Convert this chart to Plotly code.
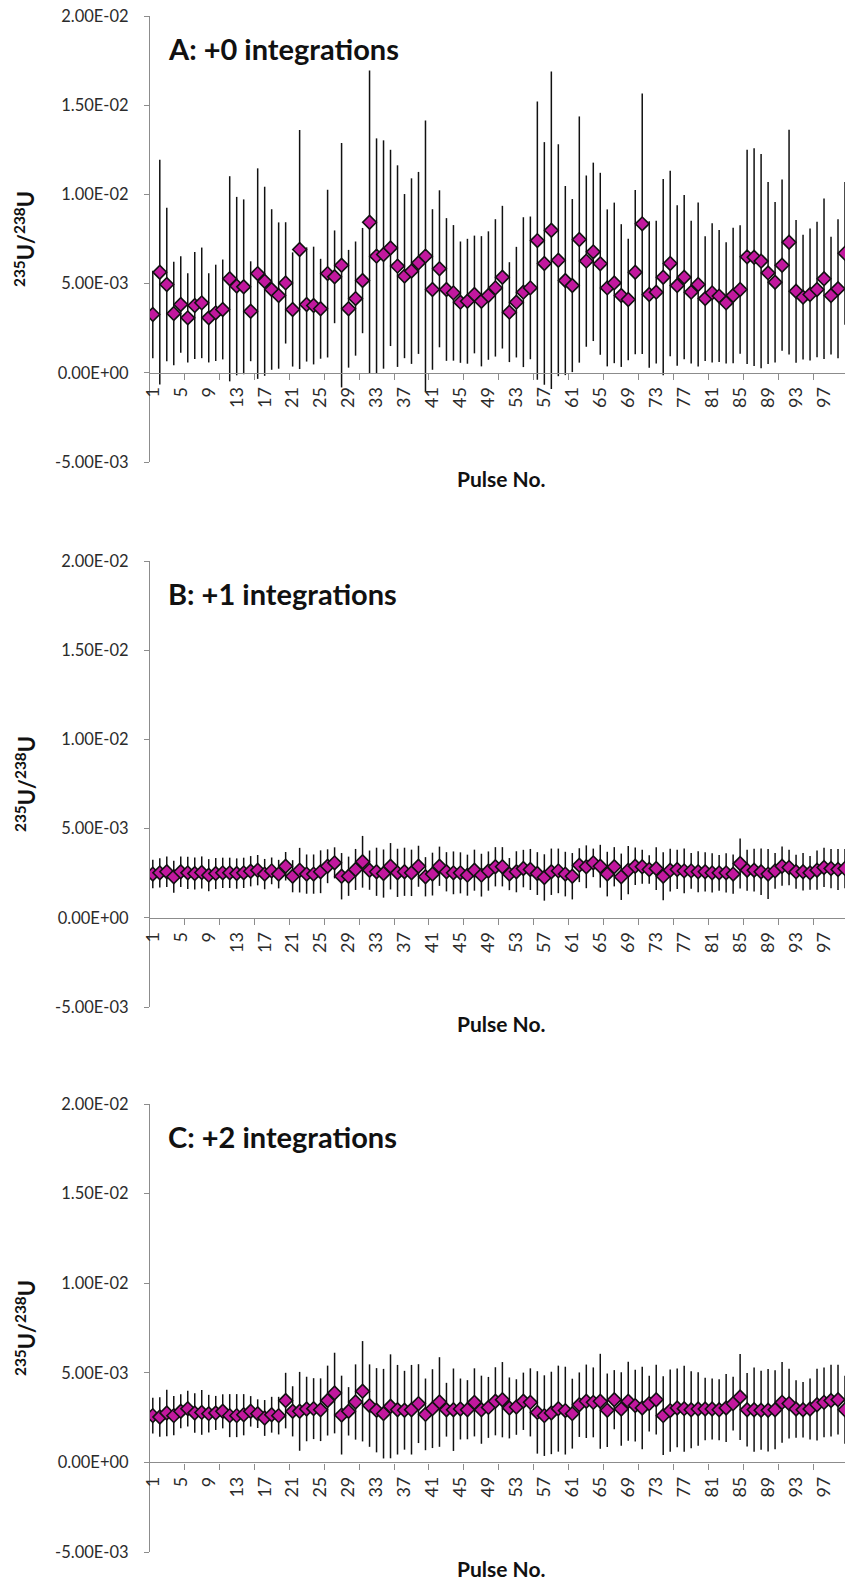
import plotly.graph_objects as go

# Pulse numbers (categories) and axis labelling
pulse = list(range(1, 101))
x_tick_vals = list(range(1, 98, 4))
x_tick_labels = [str(v) for v in x_tick_vals]
y_tick_vals = [-0.005, 0.0, 0.005, 0.01, 0.015, 0.02]
y_tick_labels = ["-5.00E-03", "0.00E+00", "5.00E-03", "1.00E-02", "1.50E-02", "2.00E-02"]
panel_titles = ["A: +0 integrations", "B: +1 integrations", "C: +2 integrations"]

# 235U/238U ratios and their uncertainties, in units of 1e-3
ratio_a = [3.27, 5.64, 4.95, 3.32, 3.83, 3.08, 3.77, 3.92, 3.08, 3.36,
           3.55, 5.27, 4.86, 4.82, 3.45, 5.56, 5.13, 4.67, 4.33, 5.04,
           3.55, 6.91, 3.83, 3.77, 3.59, 5.56, 5.38, 6.03, 3.59, 4.16,
           5.17, 8.44, 6.54, 6.63, 7.00, 5.98, 5.42, 5.70, 6.16, 6.54,
           4.67, 5.83, 4.67, 4.48, 3.96, 4.01, 4.39, 4.01, 4.33, 4.76,
           5.36, 3.40, 3.96, 4.52, 4.76, 7.41, 6.13, 7.99, 6.31, 5.17,
           4.89, 7.47, 6.26, 6.78, 6.11, 4.76, 5.04, 4.33, 4.11, 5.64,
           8.35, 4.39, 4.52, 5.36, 6.13, 4.89, 5.36, 4.52, 4.95, 4.16,
           4.48, 4.30, 3.92, 4.33, 4.67, 6.50, 6.48, 6.26, 5.60, 5.08,
           6.03, 7.32, 4.57, 4.24, 4.39, 4.67, 5.27, 4.33, 4.71, 6.70]
err_a = [2.45, 6.3, 4.3, 2.9, 2.7, 2.5, 3.0, 3.1, 2.5, 2.7,
         2.8, 5.75, 5.0, 4.9, 2.8, 5.9, 5.3, 4.5, 4.1, 3.4,
         3.2, 6.7, 3.2, 3.3, 2.8, 4.7, 2.6, 6.85, 3.3, 3.2,
         2.95, 8.5, 6.6, 6.4, 5.5, 5.65, 4.6, 5.2, 5.1, 7.6,
         4.5, 4.4, 4.0, 3.8, 3.4, 3.5, 3.3, 3.65, 3.6, 3.85,
         4.0, 2.8, 3.1, 4.2, 4.0, 7.8, 6.8, 8.9, 6.5, 5.3,
         4.85, 6.9, 4.8, 5.0, 5.1, 4.4, 4.5, 4.0, 3.4, 4.6,
         7.3, 4.1, 4.0, 5.5, 5.2, 4.5, 4.6, 4.0, 4.6, 3.5,
         3.9, 3.7, 3.4, 3.8, 3.6, 6.0, 6.1, 6.0, 5.1, 4.5,
         4.8, 6.3, 4.0, 3.5, 3.7, 3.8, 4.5, 3.3, 3.9, 4.0]

ratio_b = [2.45, 2.52, 2.58, 2.30, 2.58, 2.52, 2.48, 2.54, 2.39, 2.48,
           2.52, 2.52, 2.48, 2.52, 2.61, 2.67, 2.45, 2.63, 2.45, 2.89,
           2.33, 2.67, 2.45, 2.45, 2.58, 2.89, 3.08, 2.33, 2.33, 2.71,
           3.14, 2.67, 2.58, 2.48, 2.89, 2.52, 2.58, 2.52, 2.89, 2.30,
           2.45, 2.89, 2.58, 2.52, 2.52, 2.39, 2.67, 2.39, 2.62, 2.86,
           2.86, 2.45, 2.58, 2.76, 2.71, 2.48, 2.26, 2.58, 2.63, 2.45,
           2.33, 2.95, 2.86, 3.08, 2.89, 2.45, 2.86, 2.30, 2.67, 2.89,
           2.86, 2.71, 2.76, 2.33, 2.67, 2.71, 2.63, 2.63, 2.58, 2.58,
           2.52, 2.52, 2.52, 2.45, 3.04, 2.67, 2.67, 2.58, 2.45, 2.63,
           2.89, 2.82, 2.58, 2.58, 2.52, 2.67, 2.82, 2.76, 2.71, 2.76]
err_b = [0.8, 0.82, 0.85, 0.9, 0.85, 0.9, 0.9, 0.9, 0.9, 0.87,
         0.85, 0.85, 0.85, 0.85, 0.85, 0.85, 0.85, 0.75, 0.8, 0.8,
         0.9, 1.25, 1.1, 1.1, 1.2, 0.95, 0.87, 1.3, 1.1, 1.15,
         1.45, 1.1, 1.35, 1.35, 1.3, 1.35, 1.35, 1.3, 1.15, 1.1,
         1.2, 1.1, 1.1, 1.2, 1.15, 1.15, 1.15, 1.2, 1.1, 1.1,
         1.1, 0.9, 1.15, 1.05, 1.15, 1.2, 1.3, 1.3, 1.25, 1.25,
         1.3, 0.95, 1.2, 0.8, 1.2, 1.25, 1.1, 1.3, 1.35, 1.05,
         0.95, 0.8, 1.2, 1.35, 1.2, 1.1, 1.25, 1.0, 1.15, 1.1,
         1.1, 1.0, 1.1, 1.1, 1.4, 1.15, 1.2, 1.3, 1.4, 1.0,
         1.1, 1.0, 0.95, 1.05, 0.95, 1.1, 1.1, 1.1, 1.15, 1.1]

ratio_c = [2.61, 2.53, 2.76, 2.61, 2.85, 3.00, 2.76, 2.79, 2.72, 2.76,
           2.85, 2.61, 2.61, 2.66, 2.85, 2.72, 2.48, 2.66, 2.61, 3.45,
           2.85, 2.85, 2.98, 3.00, 2.94, 3.45, 3.87, 2.64, 2.85, 3.37,
           3.97, 3.17, 2.91, 2.72, 3.13, 2.94, 2.91, 2.94, 3.28, 2.68,
           3.00, 3.37, 2.94, 2.94, 2.98, 2.94, 3.35, 2.94, 3.07, 3.41,
           3.50, 3.04, 3.09, 3.41, 3.35, 2.79, 2.61, 2.76, 3.00, 2.89,
           2.72, 3.22, 3.41, 3.35, 3.41, 2.91, 3.50, 2.98, 3.41, 3.17,
           3.04, 3.28, 3.50, 2.61, 2.89, 3.04, 3.00, 2.94, 2.98, 2.98,
           2.98, 2.94, 3.04, 3.28, 3.65, 2.94, 2.94, 2.91, 2.91, 2.94,
           3.35, 3.28, 2.98, 2.94, 2.98, 3.22, 3.35, 3.45, 3.50, 2.94]
err_c = [1.0, 1.1, 1.3, 1.1, 0.95, 1.0, 1.1, 1.25, 1.05, 0.95,
         0.95, 1.2, 1.2, 1.15, 0.85, 0.8, 1.0, 1.0, 1.05, 1.55,
         1.4, 2.2, 1.8, 1.7, 1.75, 1.95, 2.25, 2.2, 1.35, 2.1,
         2.8, 2.3, 2.35, 2.5, 2.9, 2.5, 2.2, 2.5, 2.2, 2.0,
         2.2, 2.5, 1.5, 2.3, 1.7, 1.65, 1.9, 1.9, 1.7, 1.9,
         2.1, 1.7, 1.55, 1.6, 1.9, 2.3, 2.25, 2.3, 2.4, 2.45,
         1.95, 1.8, 2.05, 1.95, 2.65, 2.05, 1.65, 2.05, 2.2, 2.0,
         2.3, 1.55, 1.95, 2.2, 2.3, 2.2, 2.4, 2.15, 2.05, 1.75,
         1.7, 1.7, 1.9, 1.5, 2.4, 2.05, 2.35, 2.2, 2.3, 2.2,
         2.25, 1.95, 1.6, 1.55, 1.7, 2.0, 1.95, 2.0, 1.95, 1.9]

UNIT = 1e-3

# ---- layout geometry (pixels) ----
W, H = 845, 1584
ML, MR, MT, MB = 150, 0, 16, 32
PLOT_W = W - ML - MR
PLOT_H = H - MT - MB
panel_px = [(16, 462), (561, 1007), (1104, 1552)]   # top / bottom of each plot area

def py(px):
    return (H - MB - px) / PLOT_H

def pxx(px):
    return (px - ML) / PLOT_W

FONT = "Lato, 'Open Sans', sans-serif"
AXIS_GREY = "#8c8c8c"
TEXT = "#2b2b2b"
FILL = "#C2189E"

minor_ticks = [k + 0.5 for k in range(0, 101, 5)]

fig = go.Figure()
series = [(ratio_a, err_a), (ratio_b, err_b), (ratio_c, err_c)]
layout = dict(
    width=W, height=H,
    margin=dict(l=ML, r=MR, t=MT, b=MB),
    paper_bgcolor="white", plot_bgcolor="white",
    showlegend=False,
    font=dict(family=FONT, color=TEXT),
)
annotations = []

for i, (vals, errs) in enumerate(series):
    n = i + 1
    xa = "x" if n == 1 else f"x{n}"
    ya = "y" if n == 1 else f"y{n}"
    top, bot = panel_px[i]
    d0, d1 = py(bot), py(top)
    y_range = [-0.005, 0.02]
    zero_pos = d0 + (0 - y_range[0]) / (y_range[1] - y_range[0]) * (d1 - d0)

    fig.add_trace(go.Scatter(
        x=pulse, y=[v * UNIT for v in vals],
        xaxis=xa, yaxis=ya, mode="markers",
        marker=dict(symbol="diamond", size=10.5, color=FILL,
                    line=dict(color="#111111", width=1.6)),
        error_y=dict(type="data", array=[e * UNIT for e in errs],
                     symmetric=True, color="#111111", thickness=1.5, width=0),
        cliponaxis=True,
    ))

    layout["xaxis" if n == 1 else f"xaxis{n}"] = dict(
        domain=[0, 1], anchor="free", position=zero_pos,
        range=[0.6, 100.0],
        tickmode="array", tickvals=x_tick_vals, ticktext=x_tick_labels,
        tickangle=-90, ticks="", ticklabelstandoff=6,
        tickfont=dict(family=FONT, size=18, color=TEXT),
        showline=True, linecolor=AXIS_GREY, linewidth=1.2,
        showgrid=False, zeroline=False,
        minor=dict(tickmode="array", tickvals=minor_ticks, ticks="outside",
                   ticklen=6, tickcolor=AXIS_GREY, tickwidth=1.2, showgrid=False),
    )
    layout["yaxis" if n == 1 else f"yaxis{n}"] = dict(
        domain=[d0, d1], anchor=xa, range=y_range,
        tickmode="array", tickvals=y_tick_vals, ticktext=y_tick_labels,
        ticks="outside", ticklen=5, tickcolor=AXIS_GREY, tickwidth=1.2,
        ticklabelstandoff=12,
        tickfont=dict(family=FONT, size=16.5, color=TEXT),
        showline=True, linecolor=AXIS_GREY, linewidth=1.2,
        showgrid=False, zeroline=False,
    )

    zero_px = top + (y_range[1] - 0) / (y_range[1] - y_range[0]) * (bot - top)

    annotations.append(dict(
        text=f"<b>{panel_titles[i]}</b>", xref="paper", yref="paper",
        x=pxx(166), y=py(top + 32), xanchor="left", yanchor="middle",
        showarrow=False, font=dict(family=FONT, size=29, color="#111111"),
    ))
    annotations.append(dict(
        text="<b><sup>235</sup>U/<sup>238</sup>U</b>", xref="paper", yref="paper",
        x=pxx(25), y=py((top + bot) / 2), xanchor="center", yanchor="middle",
        textangle=-90, showarrow=False,
        font=dict(family=FONT, size=22, color="#111111"),
    ))
    annotations.append(dict(
        text="<b>Pulse No.</b>", xref="paper", yref="paper",
        x=pxx(501), y=py(zero_px + 106), xanchor="center", yanchor="middle",
        showarrow=False, font=dict(family=FONT, size=21, color="#111111"),
    ))

layout["annotations"] = annotations
fig.update_layout(**layout)
fig.write_html("out.html")
